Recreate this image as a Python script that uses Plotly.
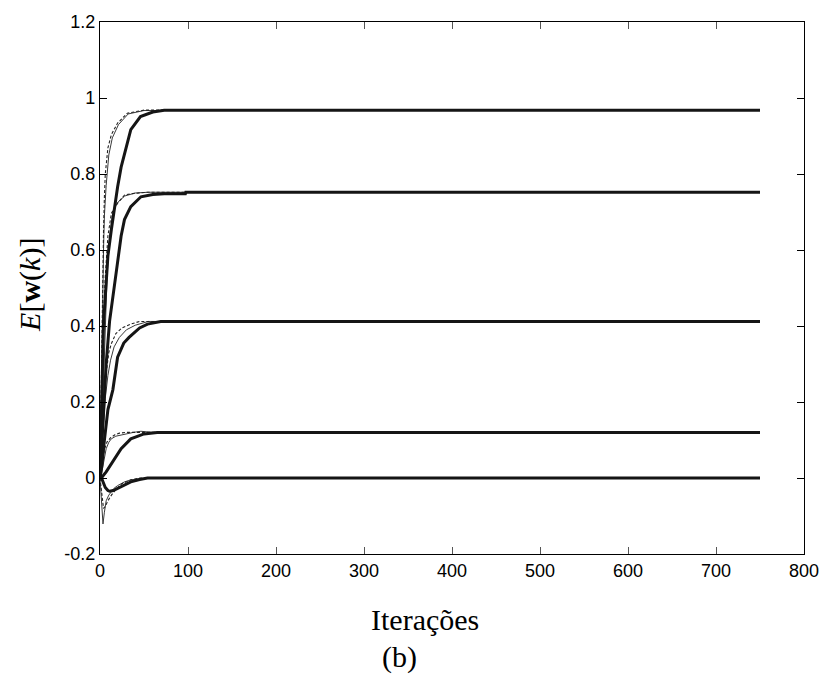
import plotly.graph_objects as go

# ---- data ----
K1_thick = [0, 1, 2, 3, 4, 5, 7, 9, 13, 16.5, 20, 24, 30, 35, 46, 60, 73, 750]
W1_thick = [0, 0.12, 0.25, 0.36, 0.41, 0.44, 0.51, 0.585, 0.655, 0.714, 0.766, 0.818, 0.869, 0.917, 0.951, 0.963, 0.968, 0.968]
K1_thin = [0, 1, 2, 3, 4, 5, 7, 10, 14, 21, 32, 50, 750]
W1_thin = [0, 0.17, 0.33, 0.47, 0.6, 0.69, 0.77, 0.85, 0.895, 0.93, 0.958, 0.967, 0.968]
K1_dash = [0, 1, 2, 3, 4, 5, 6, 9, 13, 20, 31, 50, 750]
W1_dash = [0, 0.2, 0.38, 0.52, 0.65, 0.74, 0.80, 0.869, 0.904, 0.934, 0.96, 0.968, 0.968]

K2_thick = [0, 2, 4, 7, 10.9, 14.6, 20, 24, 27.8, 35, 46.5, 60, 73, 97, 97.5, 750]
W2_thick = [0, 0.08, 0.17, 0.3, 0.413, 0.482, 0.568, 0.637, 0.68, 0.714, 0.74, 0.746, 0.748, 0.748, 0.752, 0.752]
K2_thin = [0, 2, 4, 6, 8, 11, 14.6, 20, 28, 40, 55, 750]
W2_thin = [0, 0.1, 0.25, 0.4, 0.53, 0.637, 0.7, 0.725, 0.742, 0.75, 0.752, 0.752]
K2_dash = [0, 1, 2, 3, 4, 6, 9, 13, 20, 28, 39, 54, 750]
W2_dash = [0, 0.12, 0.24, 0.34, 0.42, 0.53, 0.637, 0.697, 0.723, 0.745, 0.749, 0.752, 0.752]

K3_thick = [0, 2, 5, 9, 14.6, 20, 27, 33, 45, 54, 69, 750]
W3_thick = [0, 0.03, 0.1, 0.18, 0.232, 0.318, 0.355, 0.37, 0.395, 0.405, 0.412, 0.412]
K3_thin = [0, 2, 4, 6, 9, 12, 16, 22, 30, 40, 55, 750]
W3_thin = [0, 0.07, 0.15, 0.21, 0.27, 0.31, 0.345, 0.37, 0.39, 0.402, 0.412, 0.412]
K3_dash = [0, 2, 4, 7, 10, 12.8, 18, 25, 35, 45, 750]
W3_dash = [0, 0.1, 0.19, 0.275, 0.33, 0.353, 0.38, 0.395, 0.405, 0.412, 0.412]

K4_thick = [0, 1.5, 7, 14.6, 24, 35, 50, 65, 750]
W4_thick = [0, 0, 0.016, 0.042, 0.077, 0.103, 0.116, 0.12, 0.12]
K4_thin = [0, 1, 2, 3.4, 5, 7, 10, 12.8, 18, 28, 38, 46.5, 60, 750]
W4_thin = [0, 0.0, 0.015, 0.034, 0.058, 0.077, 0.094, 0.103, 0.11, 0.116, 0.12, 0.123, 0.12, 0.12]
K4_dash = [0, 1, 2, 3, 5, 8, 12, 17, 22, 30, 45, 750]
W4_dash = [0, 0.01, 0.03, 0.05, 0.075, 0.095, 0.106, 0.114, 0.118, 0.12, 0.12, 0.12]

K5_thick = [0, 3, 6, 9, 11, 15, 20, 28, 35, 45, 54, 750]
W5_thick = [0.01, -0.01, -0.025, -0.033, -0.035, -0.033, -0.027, -0.017, -0.01, -0.004, 0, 0]
K5_thin = [0, 1, 2, 3.4, 5, 7, 10, 12.8, 16, 20, 28, 35, 45, 60, 750]
W5_thin = [0, -0.04, -0.08, -0.121, -0.09, -0.06, -0.045, -0.035, -0.027, -0.02, -0.01, -0.005, -0.002, 0, 0]
K5_dash = [0, 2, 4, 6, 9, 13, 18, 25, 35, 45, 750]
W5_dash = [0, -0.05, -0.08, -0.075, -0.06, -0.045, -0.03, -0.015, -0.005, 0, 0]

X_TICKS = [0, 100, 200, 300, 400, 500, 600, 700, 800]
X_TICKTEXT = ["0", "100", "200", "300", "400", "500", "600", "700", "800"]
Y_TICKS = [-0.2, 0, 0.2, 0.4, 0.6, 0.8, 1.0, 1.2]
Y_TICKTEXT = ["-0.2", "0", "0.2", "0.4", "0.6", "0.8", "1", "1.2"]

thin_series = [(K1_thin, W1_thin), (K2_thin, W2_thin), (K3_thin, W3_thin), (K4_thin, W4_thin), (K5_thin, W5_thin)]
dash_series = [(K1_dash, W1_dash), (K2_dash, W2_dash), (K3_dash, W3_dash), (K4_dash, W4_dash), (K5_dash, W5_dash)]
thick_series = [(K1_thick, W1_thick), (K2_thick, W2_thick), (K3_thick, W3_thick), (K4_thick, W4_thick), (K5_thick, W5_thick)]

fig = go.Figure()
for k, w in thin_series:
    fig.add_trace(go.Scatter(x=k, y=w, mode="lines", line=dict(color="#3a3a3a", width=1), showlegend=False))
for k, w in dash_series:
    fig.add_trace(go.Scatter(x=k, y=w, mode="lines", line=dict(color="#222", width=1.1, dash="3px,2px"), showlegend=False))
for k, w in thick_series:
    fig.add_trace(go.Scatter(x=k, y=w, mode="lines", line=dict(color="#151515", width=3), showlegend=False))

tickfont = dict(family="Arial, Liberation Sans, sans-serif", size=18, color="black")
fig.update_layout(
    width=831, height=683,
    margin=dict(l=100, r=21, t=12, b=129),
    paper_bgcolor="white", plot_bgcolor="white",
    xaxis=dict(range=[0, 800], tickvals=X_TICKS, ticktext=X_TICKTEXT, ticks="inside", ticklen=7,
               tickcolor="#555", showline=True, linecolor="black", linewidth=1.2, mirror="ticks",
               showgrid=False, zeroline=False, tickfont=tickfont),
    yaxis=dict(range=[-0.2, 1.2], tickvals=Y_TICKS, ticktext=Y_TICKTEXT, ticks="inside", ticklen=7,
               tickcolor="black", showline=True, linecolor="black", linewidth=1.2, mirror="ticks",
               showgrid=False, zeroline=False, tickfont=tickfont),
    annotations=[
        dict(text="Iterações", xref="paper", yref="paper", x=0.462, y=-0.1236, xanchor="center", yanchor="middle",
             showarrow=False, font=dict(family="Times New Roman, Liberation Serif, serif", size=30, color="black")),
        dict(text="(b)", xref="paper", yref="paper", x=0.4254, y=-0.1937, xanchor="center", yanchor="middle",
             showarrow=False, font=dict(family="Times New Roman, Liberation Serif, serif", size=30, color="black")),
        dict(text="<i>E</i>[<b>w</b>(<i>k</i>)]", xref="paper", yref="paper", x=-0.0986, y=0.505,
             xanchor="center", yanchor="middle", textangle=-90, showarrow=False,
             font=dict(family="Times New Roman, Liberation Serif, serif", size=30, color="black")),
    ],
)
fig.write_html("out.html")
